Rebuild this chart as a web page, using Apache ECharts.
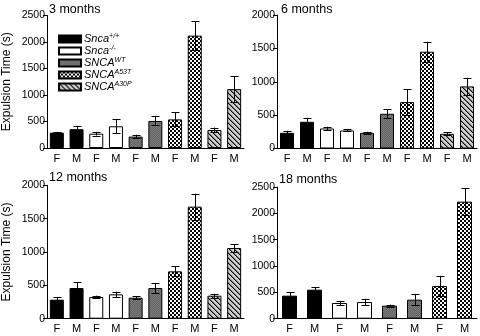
<!DOCTYPE html>
<html>
<head>
<meta charset="utf-8">
<script src="https://cdn.jsdelivr.net/npm/echarts@6/dist/echarts.min.js"></script>
<style>html,body{margin:0;padding:0;background:#fff}#c{width:480px;height:336px}</style>
</head>
<body>
<div id="c"></div>
<script>
// ---- data ----
var cats10 = ['F','M','F','M','F','M','F','M','F','M'];
var cats8 = ['F','M','F','M','F','M','F','M'];
var genotypes = ['Snca+/+','Snca-/-','SNCA WT','SNCA A53T','SNCA A30P'];
var titles = ['3 months','6 months','12 months','18 months'];
var yMax = [2500, 2000, 2000, 2500];
var mean3  = [290, 355, 270, 410, 215, 510, 540, 2120, 340, 1110];
var err3   = [15, 65, 35, 135, 35, 85, 130, 270, 45, 240];
var mean6  = [235, 400, 300, 270, 235, 520, 695, 1450, 220, 930];
var err6   = [30, 60, 25, 15, 15, 65, 190, 150, 25, 130];
var mean12 = [285, 460, 325, 365, 315, 460, 710, 1680, 345, 1060];
var err12  = [35, 85, 20, 40, 25, 75, 75, 195, 30, 60];
var mean18 = [437, 551, 298, 316, 247, 361, 620, 2222];
var err18  = [65, 45, 40, 60, 20, 100, 195, 250];

var means = [mean3, mean6, mean12, mean18];
var errs = [err3, err6, err12, err18];
var catsList = [cats10, cats10, cats10, cats8];

// ---- pattern fills ----
function makePattern(size, fn) {
  var cv = document.createElement('canvas');
  cv.width = size; cv.height = size;
  var ctx = cv.getContext('2d');
  for (var y = 0; y < size; y++) {
    for (var x = 0; x < size; x++) {
      ctx.fillStyle = fn(x, y);
      ctx.fillRect(x, y, 1, 1);
    }
  }
  return {image: cv, repeat: 'repeat'};
}
var stipple = makePattern(2, function (x, y) { return ((x + y) % 2) ? '#626262' : '#7c7c7c'; });
var checker = makePattern(4, function (x, y) { return ((Math.floor(x/2) + Math.floor(y/2)) % 2) ? '#ffffff' : '#000000'; });
var stripes = makePattern(5, function (x, y) {
  var k = ((x - y) % 5 + 5) % 5;
  return k === 0 ? '#000000' : (k === 1 ? '#7a7a7a' : '#cccccc');
});

var FONT = 'Liberation Sans';
var fills = ['#000000', '#ffffff', stipple, checker, stripes];
var grids = [
  {left: 46, top: 15.5, width: 198, height: 132.5},
  {left: 277, top: 15, width: 200, height: 133.5},
  {left: 46, top: 185.3, width: 198, height: 133.4},
  {left: 277, top: 187, width: 200, height: 131.7}
];
var titlePos = [[49, 3], [281, 3], [49, 171], [279, 173]];

var xAxes = [], yAxes = [], series = [], titleArr = [];
for (var p = 0; p < 4; p++) {
  var cats = catsList[p];
  xAxes.push({
    type: 'category', gridIndex: p, data: cats,
    axisLine: {lineStyle: {color: '#000', width: 1}},
    axisTick: {show: false},
    axisLabel: {color: '#000', fontFamily: FONT, fontSize: 11, margin: 5}
  });
  var yl = {
    type: 'value', gridIndex: p, min: 0, max: yMax[p], interval: 500,
    axisLine: {show: true, lineStyle: {color: '#000', width: 1}},
    axisTick: {show: true, length: 4, lineStyle: {color: '#000'}},
    splitLine: {show: false},
    axisLabel: {color: '#000', fontFamily: FONT, fontSize: 10.5, margin: 2,
      formatter: function (v) { return String(v); }}
  };
  if (p === 0 || p === 2) {
    yl.name = 'Expulsion Time (s)';
    yl.nameLocation = 'middle';
    yl.nameGap = 34;
    yl.nameTextStyle = {color: '#000', fontFamily: FONT, fontSize: 12};
  }
  yAxes.push(yl);
  titleArr.push({text: titles[p], left: titlePos[p][0], top: titlePos[p][1], padding: 0,
    textStyle: {fontFamily: FONT, fontSize: 12.5, fontWeight: 'normal', color: '#000'}});
  var nG = cats.length / 2;
  for (var g = 0; g < nG; g++) {
    var d = [];
    for (var i = 0; i < cats.length; i++) {
      d.push((i === 2*g || i === 2*g+1) ? means[p][i] : '-');
    }
    series.push({
      type: 'bar', name: genotypes[g], xAxisIndex: p, yAxisIndex: p,
      data: d, barWidth: (p === 3 ? 15 : 14), barGap: '-100%',
      itemStyle: {color: fills[g], borderColor: '#000', borderWidth: 1},
      silent: true, animation: false
    });
  }
  var ed = [];
  for (var i = 0; i < cats.length; i++) {
    ed.push([i, means[p][i] - errs[p][i], means[p][i] + errs[p][i]]);
  }
  series.push({
    type: 'custom', name: 'err' + p, xAxisIndex: p, yAxisIndex: p, z: 10,
    data: ed, encode: {x: 0, y: [1, 2]}, silent: true, animation: false,
    renderItem: function (params, api) {
      var x = api.value(0);
      var lo = api.coord([x, api.value(1)]);
      var hi = api.coord([x, api.value(2)]);
      var cx = Math.round(lo[0]) + 0.5;
      var hw = 4;
      var st = {stroke: '#000', lineWidth: 1};
      return {type: 'group', children: [
        {type: 'line', shape: {x1: cx, y1: lo[1], x2: cx, y2: hi[1]}, style: st},
        {type: 'line', shape: {x1: cx - hw, y1: Math.round(hi[1]) + 0.5, x2: cx + hw, y2: Math.round(hi[1]) + 0.5}, style: st},
        {type: 'line', shape: {x1: cx - hw, y1: Math.round(lo[1]) + 0.5, x2: cx + hw, y2: Math.round(lo[1]) + 0.5}, style: st}
      ]};
    }
  });
}

var legendFmt = {
  'Snca+/+': '{i|Snca}{s|+/+}',
  'Snca-/-': '{i|Snca}{s|-/-}',
  'SNCA WT': '{i|SNCA}{s|WT}',
  'SNCA A53T': '{i|SNCA}{s|A53T}',
  'SNCA A30P': '{i|SNCA}{s|A30P}'
};

var chart = echarts.init(document.getElementById('c'), null, {renderer: 'canvas'});
chart.setOption({
  animation: false,
  title: titleArr,
  grid: grids,
  xAxis: xAxes,
  yAxis: yAxes,
  legend: {
    data: genotypes, orient: 'vertical', left: 58, top: 33,
    itemWidth: 22, itemHeight: 7, itemGap: 0, selectedMode: false, padding: 0,
    icon: 'rect',
    formatter: function (n) { return legendFmt[n]; },
    textStyle: {
      fontFamily: FONT, color: '#000', padding: [0,0,0,-2],
      rich: {
        i: {fontFamily: FONT, fontStyle: 'italic', fontSize: 11, color: '#000', lineHeight: 12},
        s: {fontFamily: FONT, fontStyle: 'italic', fontSize: 7, color: '#000', verticalAlign: 'top', lineHeight: 12, padding: [0,0,5,0]}
      }
    }
  },
  series: series
});
</script>
</body>
</html>
